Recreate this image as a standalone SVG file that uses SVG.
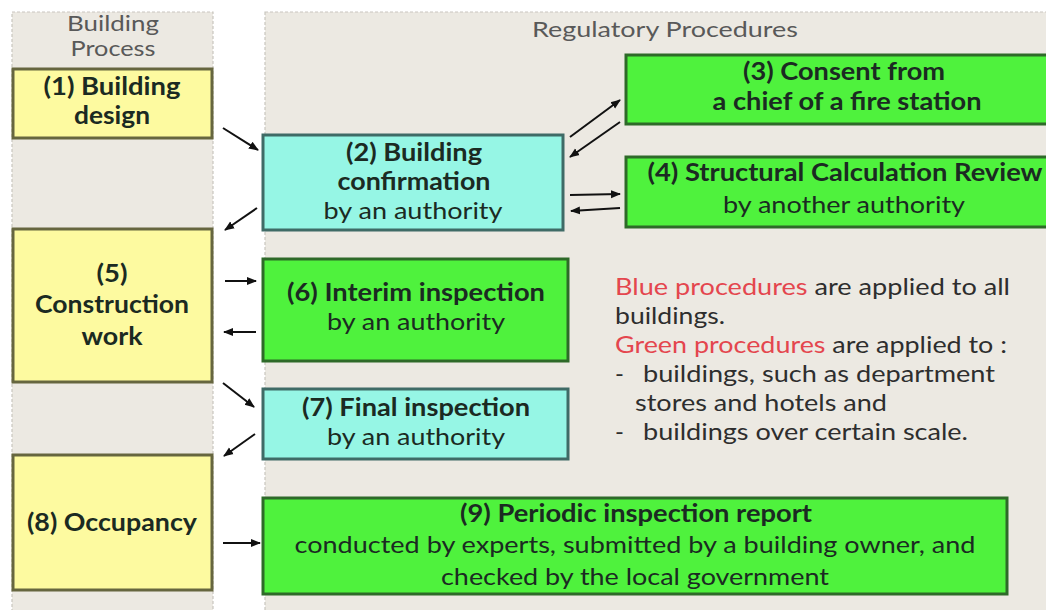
<svg xmlns="http://www.w3.org/2000/svg" width="1046" height="610" viewBox="0 0 1046 610">
<defs>
<marker id="ah" viewBox="0 0 10 10" refX="9" refY="5" markerWidth="5" markerHeight="5" orient="auto" markerUnits="strokeWidth">
<path d="M0,1 L10,5 L0,9 z" fill="#111"/>
</marker>
</defs>
<style>
.col{fill:#ECE9E2;stroke:#C9C6BF;stroke-width:1.2;stroke-dasharray:3 2}
.yel{fill:#FDFAA0;stroke:#66663F;stroke-width:3}
.cya{fill:#96F6E5;stroke:#3F6B66;stroke-width:3}
.grn{fill:#4FF23D;stroke:#2E6A29;stroke-width:3}
text{font-family:Lato,"Open Sans","Liberation Sans",sans-serif;font-size:24px;fill:#1B2A22;text-anchor:middle}
.b{font-weight:bold}
.hd{fill:#595959;font-size:20.5px}
.lg{text-anchor:start;fill:#2E2E2E}
.red{fill:#E4464E}
.arr line{stroke:#111;stroke-width:2;marker-end:url(#ah)}
</style>
<rect width="1046" height="610" fill="#FFFFFF"/>
<g id="lanes">
<rect class="col" x="12" y="12" width="201" height="604"/>
<rect class="col" x="265" y="12" width="790" height="604"/>
<text class="hd" x="113" y="31" textLength="92" lengthAdjust="spacingAndGlyphs">Building</text>
<text class="hd" x="113" y="56" textLength="85" lengthAdjust="spacingAndGlyphs">Process</text>
<text class="hd" x="665" y="37" textLength="266" lengthAdjust="spacingAndGlyphs">Regulatory Procedures</text>
</g>
<g id="n1">
<rect class="yel" x="13" y="69" width="199" height="69"/>
<text class="b" x="112" y="95" textLength="137" lengthAdjust="spacingAndGlyphs">(1) Building</text>
<text class="b" x="112" y="124" textLength="76" lengthAdjust="spacingAndGlyphs">design</text>
</g>
<g id="n2">
<rect class="cya" x="263" y="135" width="300" height="95"/>
<text class="b" x="414" y="161" textLength="136" lengthAdjust="spacingAndGlyphs">(2) Building</text>
<text class="b" x="414" y="190" textLength="153" lengthAdjust="spacingAndGlyphs">confirmation</text>
<text x="413" y="219" textLength="179" lengthAdjust="spacingAndGlyphs">by an authority</text>
</g>
<g id="n3">
<rect class="grn" x="626" y="55" width="440" height="69"/>
<text class="b" x="844" y="80" textLength="202" lengthAdjust="spacingAndGlyphs">(3) Consent from</text>
<text class="b" x="847" y="110" textLength="269" lengthAdjust="spacingAndGlyphs">a chief of a fire station</text>
</g>
<g id="n4">
<rect class="grn" x="626" y="157" width="440" height="70"/>
<text class="b" x="845" y="181" textLength="395" lengthAdjust="spacingAndGlyphs">(4) Structural Calculation Review</text>
<text x="844" y="213" textLength="242" lengthAdjust="spacingAndGlyphs">by another authority</text>
</g>
<g id="n5">
<rect class="yel" x="13" y="229" width="199" height="153"/>
<text class="b" x="112" y="282" textLength="31" lengthAdjust="spacingAndGlyphs">(5)</text>
<text class="b" x="112" y="313" textLength="154" lengthAdjust="spacingAndGlyphs">Construction</text>
<text class="b" x="112" y="345" textLength="61" lengthAdjust="spacingAndGlyphs">work</text>
</g>
<g id="n6">
<rect class="grn" x="263" y="259" width="305" height="102"/>
<text class="b" x="416" y="301" textLength="258" lengthAdjust="spacingAndGlyphs">(6) Interim inspection</text>
<text x="416" y="330" textLength="178" lengthAdjust="spacingAndGlyphs">by an authority</text>
</g>
<g id="n7">
<rect class="cya" x="263" y="389" width="305" height="70"/>
<text class="b" x="416" y="416" textLength="228" lengthAdjust="spacingAndGlyphs">(7) Final inspection</text>
<text x="416" y="445" textLength="178" lengthAdjust="spacingAndGlyphs">by an authority</text>
</g>
<g id="n8">
<rect class="yel" x="13" y="455" width="199" height="135"/>
<text class="b" x="112" y="531" textLength="170" lengthAdjust="spacingAndGlyphs">(8) Occupancy</text>
</g>
<g id="n9">
<rect class="grn" x="263" y="498" width="744" height="96"/>
<text class="b" x="636" y="522" textLength="352" lengthAdjust="spacingAndGlyphs">(9) Periodic inspection report</text>
<text x="635" y="553" textLength="681" lengthAdjust="spacingAndGlyphs">conducted by experts, submitted by a building owner, and</text>
<text x="635" y="585" textLength="388" lengthAdjust="spacingAndGlyphs">checked by the local government</text>
</g>
<g id="legend">
<text class="lg" x="615" y="295" textLength="395" lengthAdjust="spacingAndGlyphs"><tspan class="red">Blue procedures</tspan> are applied to all</text>
<text class="lg" x="615" y="324" textLength="110" lengthAdjust="spacingAndGlyphs">buildings.</text>
<text class="lg" x="615" y="353" textLength="392" lengthAdjust="spacingAndGlyphs"><tspan class="red">Green procedures</tspan> are applied to :</text>
<text class="lg" x="615" y="382">-</text>
<text class="lg" x="643" y="382" textLength="352" lengthAdjust="spacingAndGlyphs">buildings, such as department</text>
<text class="lg" x="635" y="411" textLength="252" lengthAdjust="spacingAndGlyphs">stores and hotels and</text>
<text class="lg" x="615" y="440">-</text>
<text class="lg" x="643" y="440" textLength="325" lengthAdjust="spacingAndGlyphs">buildings over certain scale.</text>
</g>
<g id="connectors" class="arr">
<line x1="223" y1="128" x2="258" y2="150"/>
<line x1="257" y1="208" x2="225" y2="230"/>
<line x1="570" y1="137" x2="620" y2="100"/>
<line x1="620" y1="122" x2="570" y2="157"/>
<line x1="570" y1="195" x2="620" y2="194"/>
<line x1="620" y1="208" x2="571" y2="211"/>
<line x1="225" y1="281" x2="256" y2="281"/>
<line x1="256" y1="332" x2="224" y2="332"/>
<line x1="223" y1="383" x2="254" y2="407"/>
<line x1="255" y1="434" x2="224" y2="456"/>
<line x1="223" y1="543" x2="260" y2="543"/>
</g>
</svg>
